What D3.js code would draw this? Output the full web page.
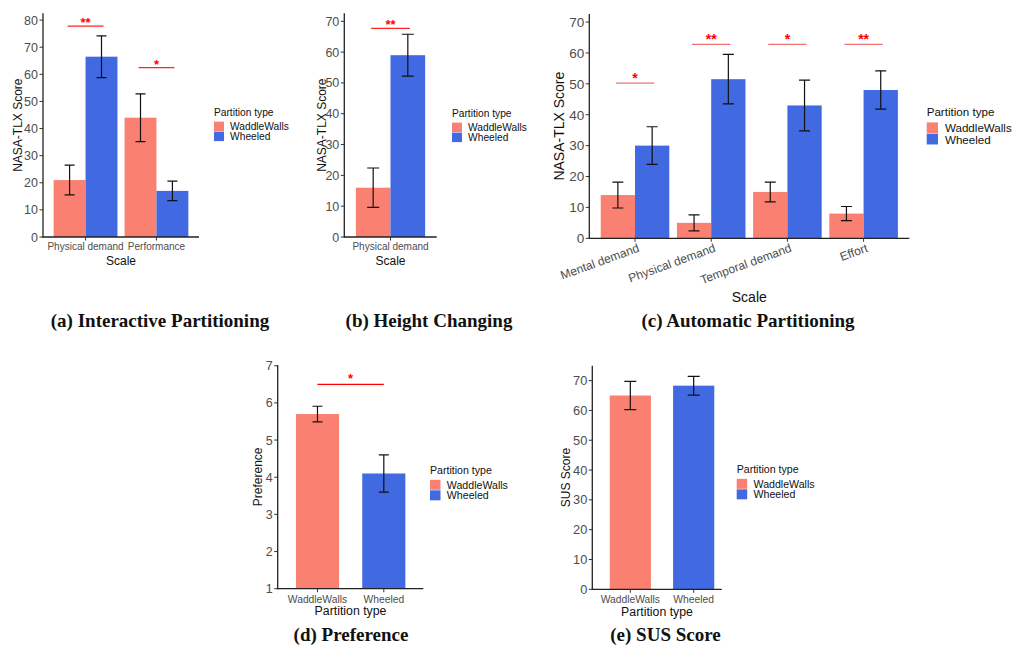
<!DOCTYPE html>
<html><head><meta charset="utf-8">
<script src="https://cdn.jsdelivr.net/npm/d3@7"></script>
<style>body{margin:0;background:#fff}svg{display:block}</style>
</head><body>
<svg id="c" width="1013" height="648"></svg>
<script>
// ---------- DATA ----------
const seriesNames = ["WaddleWalls", "Wheeled"];
const legendTitle = "Partition type";

// (a) Interactive Partitioning
const aScales = ["Physical demand", "Performance"];
const aWaddle = [21, 44];
const aWaddleErr = [5.5, 8.8];
const aWheeled = [66.5, 17];
const aWheeledErr = [7.7, 3.6];
const aSigLabel = ["**", "*"];
const aSigY = [77.8, 62.5];
const aTicks = [0, 10, 20, 30, 40, 50, 60, 70, 80];

// (b) Height Changing
const bScales = ["Physical demand"];
const bWaddle = [16];
const bWaddleErr = [6.4];
const bWheeled = [59];
const bWheeledErr = [6.8];
const bSigLabel = ["**"];
const bSigY = [67.7];
const bTicks = [0, 10, 20, 30, 40, 50, 60, 70];

// (c) Automatic Partitioning
const cScales = ["Mental demand", "Physical demand", "Temporal demand", "Effort"];
const cWaddle = [14, 5, 15, 8];
const cWaddleErr = [4.2, 2.6, 3.2, 2.3];
const cWheeled = [30, 51.5, 43, 48];
const cWheeledErr = [6.1, 8, 8.2, 6.2];
const cSigLabel = ["*", "**", "*", "**"];
const cSigY = [50.2, 62.8, 62.8, 62.8];
const cTicks = [0, 10, 20, 30, 40, 50, 60, 70];

// (d) Preference
const dMean = [5.7, 4.1];
const dErr = [0.21, 0.5];
const dSigLabel = "*";
const dSigY = 6.5;
const dTicks = [1, 2, 3, 4, 5, 6, 7];

// (e) SUS Score
const eMean = [65, 68.3];
const eErr = [4.75, 3.15];
const eTicks = [0, 10, 20, 30, 40, 50, 60, 70];

const captions = ["(a) Interactive Partitioning", "(b) Height Changing", "(c) Automatic Partitioning", "(d) Preference", "(e) SUS Score"];

// ---------- STYLE ----------
const colors = {WaddleWalls: "#FA8072", Wheeled: "#4169E1"};
const SANS = "'Liberation Sans', Arial, sans-serif";
const SERIF = "'Liberation Serif', 'Times New Roman', serif";
const svg = d3.select("#c");

function yAxis(g, y, ticks, L, fs) {
  ticks.forEach(t => {
    g.append("line").attr("x1", L - 3.5).attr("x2", L).attr("y1", y(t)).attr("y2", y(t))
      .attr("stroke", "#333").attr("stroke-width", 1);
    g.append("text").attr("x", L - 5).attr("y", y(t)).attr("dy", "0.36em")
      .attr("text-anchor", "end").attr("font-family", SANS).attr("font-size", fs)
      .attr("fill", "#4d4d4d").text(t);
  });
}

function axesLines(g, L, R, T, B) {
  g.append("line").attr("x1", L).attr("x2", L).attr("y1", T).attr("y2", B + 0.6)
    .attr("stroke", "#222").attr("stroke-width", 1.3);
  g.append("line").attr("x1", L - 0.6).attr("x2", R).attr("y1", B).attr("y2", B)
    .attr("stroke", "#222").attr("stroke-width", 1.3);
}

function errBar(g, cx, y, m, e, half) {
  const p = d3.path();
  p.moveTo(cx, y(m - e)); p.lineTo(cx, y(m + e));
  p.moveTo(cx - half, y(m + e)); p.lineTo(cx + half, y(m + e));
  p.moveTo(cx - half, y(m - e)); p.lineTo(cx + half, y(m - e));
  g.append("path").attr("d", p.toString()).attr("stroke", "#111").attr("stroke-width", 1.2).attr("fill", "none");
}

function sig(g, x1, x2, yy, label, color, fs, gap) {
  g.append("line").attr("x1", x1).attr("x2", x2).attr("y1", yy).attr("y2", yy)
    .attr("stroke", color).attr("stroke-width", 1.3);
  g.append("text").attr("x", (x1 + x2) / 2).attr("y", yy + gap).attr("text-anchor", "middle")
    .attr("font-family", SANS).attr("font-weight", "bold").attr("font-size", fs)
    .attr("fill", "#ff0000").text(label);
}

function legend(g, x, yT, key, fs) {
  g.append("text").attr("x", x).attr("y", yT).attr("font-family", SANS).attr("font-size", fs)
    .attr("fill", "#111").text(legendTitle);
  seriesNames.forEach((s, i) => {
    const ky = yT + fs * 0.55 + i * key;
    g.append("rect").attr("x", x).attr("y", ky).attr("width", key).attr("height", key - 0.5).attr("fill", colors[s]);
    g.append("text").attr("x", x + key + fs * 0.6).attr("y", ky + key / 2).attr("dy", "0.36em")
      .attr("font-family", SANS).attr("font-size", fs).attr("fill", "#111").text(s);
  });
}

// grouped NASA-TLX panel
function groupedPanel(o) {
  const g = svg.append("g");
  const x = d3.scalePoint().domain(o.cats).range([o.L, o.R]).padding(0.6);
  const step = x.step();
  const bw = step * 0.45;
  const y = d3.scaleLinear().domain([0, o.ymax]).range([o.B, o.T]);
  const sets = [[o.ww, o.wwErr, "WaddleWalls", -1], [o.wh, o.whErr, "Wheeled", 0]];
  sets.forEach(([vals, errs, name, off]) => {
    g.selectAll(null).data(o.cats).enter().append("rect")
      .attr("x", c => x(c) + off * bw).attr("width", bw)
      .attr("y", (c, i) => y(vals[i])).attr("height", (c, i) => y(0) - y(vals[i]))
      .attr("fill", colors[name]);
  });
  sets.forEach(([vals, errs, name, off]) => {
    o.cats.forEach((c, i) => errBar(g, x(c) + off * bw + bw / 2, y, vals[i], errs[i], o.cap));
  });
  o.cats.forEach((c, i) => sig(g, x(c) - bw / 2 - 2, x(c) + bw / 2 + 2, y(o.sigY[i]), o.sigLabel[i], o.sigColor, o.starFs, o.starGap));
  axesLines(g, o.L, o.R, o.T, o.B);
  yAxis(g, y, o.ticks, o.L, o.tickFs);
  o.cats.forEach(c => {
    g.append("line").attr("x1", x(c)).attr("x2", x(c)).attr("y1", o.B).attr("y2", o.B + 3.5).attr("stroke", "#333");
    if (o.rot) {
      g.append("text").attr("transform", `translate(${x(c) + 5},${o.B + 13}) rotate(-20)`)
        .attr("text-anchor", "end").attr("font-family", SANS).attr("font-size", o.catFs)
        .attr("fill", "#4d4d4d").text(c);
    } else {
      g.append("text").attr("x", x(c)).attr("y", o.B + 13).attr("text-anchor", "middle")
        .attr("font-family", SANS).attr("font-size", o.catFs).attr("fill", "#4d4d4d").text(c);
    }
  });
  g.append("text").attr("x", (o.L + o.R) / 2).attr("y", o.xTitleY).attr("text-anchor", "middle")
    .attr("font-family", SANS).attr("font-size", o.titleFs).attr("fill", "#111").text("Scale");
  g.append("text").attr("transform", `translate(${o.yTitleX},${(o.T + o.B) / 2}) rotate(-90)`)
    .attr("text-anchor", "middle").attr("dy", "0.36em").attr("font-family", SANS)
    .attr("font-size", o.titleFs).attr("fill", "#111").text("NASA-TLX Score");
  legend(g, o.legX, o.legY, o.key, o.legFs);
}

function simplePanel(o) {
  const g = svg.append("g");
  const x = d3.scalePoint().domain(seriesNames).range([o.L, o.Rs]).padding(0.6);
  const bw = x.step() * 0.65;
  const y = d3.scaleLinear().domain([o.ymin, o.ymax]).range([o.B, o.T]);
  g.selectAll(null).data(seriesNames).enter().append("rect")
    .attr("x", s => x(s) - bw / 2).attr("width", bw)
    .attr("y", (s, i) => y(o.mean[i])).attr("height", (s, i) => y(o.ymin) - y(o.mean[i]))
    .attr("fill", s => colors[s]);
  seriesNames.forEach((s, i) => errBar(g, x(s), y, o.mean[i], o.err[i], o.cap));
  if (o.sigLabel) sig(g, x(seriesNames[0]), x(seriesNames[1]), y(o.sigY), o.sigLabel, "#ff0000", 13, -1);
  axesLines(g, o.L, o.R, o.T, o.B);
  yAxis(g, y, o.ticks, o.L, o.tickFs);
  seriesNames.forEach(s => {
    g.append("line").attr("x1", x(s)).attr("x2", x(s)).attr("y1", o.B).attr("y2", o.B + 3.5).attr("stroke", "#333");
    g.append("text").attr("x", x(s)).attr("y", o.B + 14).attr("text-anchor", "middle")
      .attr("font-family", SANS).attr("font-size", 10.3).attr("fill", "#4d4d4d").text(s);
  });
  g.append("text").attr("x", (o.L + o.R) / 2).attr("y", o.B + 26.5).attr("text-anchor", "middle")
    .attr("font-family", SANS).attr("font-size", 12.3).attr("fill", "#111").text(legendTitle);
  g.append("text").attr("transform", `translate(${o.yTitleX},${(o.T + o.B) / 2}) rotate(-90)`)
    .attr("text-anchor", "middle").attr("dy", "0.36em").attr("font-family", SANS)
    .attr("font-size", 12).attr("fill", "#111").text(o.yTitle);
  legend(g, o.legX, o.legY, 10.5, 10.6);
}

groupedPanel({cats: aScales, ww: aWaddle, wwErr: aWaddleErr, wh: aWheeled, whErr: aWheeledErr,
  sigLabel: aSigLabel, sigY: aSigY, sigColor: "#f22", ticks: aTicks, ymax: 82.5,
  L: 43, R: 199, T: 13.3, B: 237, cap: 5, tickFs: 12.5, catFs: 10, titleFs: 12,
  starFs: 13, starGap: 1, xTitleY: 265, yTitleX: 18, legX: 214, legY: 116, key: 10, legFs: 10.2});

groupedPanel({cats: bScales, ww: bWaddle, wwErr: bWaddleErr, wh: bWheeled, whErr: bWheeledErr,
  sigLabel: bSigLabel, sigY: bSigY, sigColor: "#f22", ticks: bTicks, ymax: 72.6,
  L: 344.3, R: 436.7, T: 13.3, B: 237, cap: 6, tickFs: 12.5, catFs: 10, titleFs: 12,
  starFs: 13, starGap: 1, xTitleY: 265, yTitleX: 321.5, legX: 452, legY: 117, key: 10, legFs: 10.2});

groupedPanel({cats: cScales, ww: cWaddle, wwErr: cWaddleErr, wh: cWheeled, whErr: cWheeledErr,
  sigLabel: cSigLabel, sigY: cSigY, sigColor: "#f07070", ticks: cTicks, ymax: 72.6, rot: true,
  L: 589.3, R: 909.3, T: 14, B: 238.3, cap: 5.5, tickFs: 13.5, catFs: 12, titleFs: 14,
  starFs: 14, starGap: 0, xTitleY: 302, yTitleX: 559, legX: 926.7, legY: 116, key: 11.3, legFs: 11.6});

simplePanel({mean: dMean, err: dErr, sigLabel: dSigLabel, sigY: dSigY, ticks: dTicks, ymin: 1, ymax: 7.02,
  L: 277.7, R: 423.3, Rs: 423.6, T: 365, B: 588.7, cap: 5, tickFs: 12.5, yTitleX: 258, yTitle: "Preference",
  legX: 430, legY: 474});

simplePanel({mean: eMean, err: eErr, ticks: eTicks, ymin: 0, ymax: 75,
  L: 592.3, R: 721.7, Rs: 731.7, T: 365.7, B: 589.3, cap: 6, tickFs: 12.8, yTitleX: 565.7, yTitle: "SUS Score",
  legX: 736.7, legY: 473});

// captions
const capPos = [[160, 326.7], [429, 326.7], [748, 326.7], [351, 640.7], [665.5, 640.7]];
captions.forEach((t, i) => {
  svg.append("text").attr("x", capPos[i][0]).attr("y", capPos[i][1]).attr("text-anchor", "middle")
    .attr("font-family", SERIF).attr("font-weight", "bold").attr("font-size", 19)
    .attr("fill", "#111").text(t);
});
</script>
</body></html>
